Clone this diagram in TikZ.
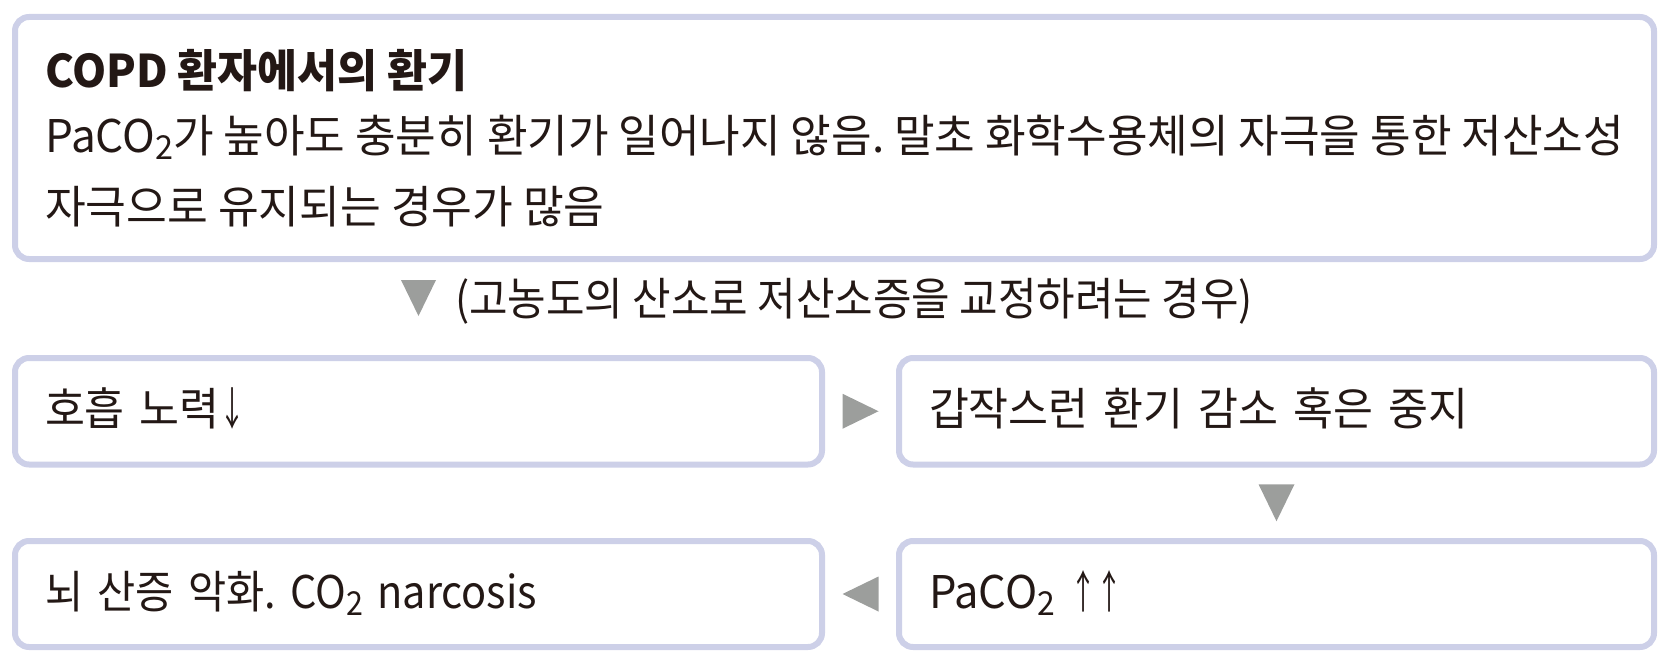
\documentclass[tikz,border=0pt]{standalone}
\usepackage{fontspec}
\usepackage{graphicx}
\setmainfont[FakeStretch=0.965]{Noto Sans CJK KR}
\usetikzlibrary{calc}
\definecolor{bordc}{HTML}{CDD0E8}
\definecolor{tric}{HTML}{9C9E9C}
\definecolor{inkc}{HTML}{231815}
\newcommand\subtwo{\raisebox{-7pt}{\fontsize{33}{33}\selectfont 2}}
\newcommand\uparr{\scalebox{0.6}[1]{↑}}
\newcommand\downarr{\scalebox{0.6}[1]{↓}}
\newcommand\hsq[2]{\scalebox{#1}[1]{#2}}
\frenchspacing
\tikzset{
  txt/.style={font=\fontsize{45}{54}\selectfont, text=inkc, inner sep=0pt},
  frame/.style={draw=bordc, line width=6pt, rounded corners=14pt, fill=white},
  rowbox/.style={frame, txt, inner xsep=30pt, inner ysep=0pt, align=left,
    text height=38pt, text depth=10pt},
  tri/.style={fill=tric, draw=none},
}
\begin{document}
\begin{tikzpicture}[x=1pt,y=1pt]
\useasboundingbox (0,0) rectangle (1678,-666);
% top box
\node[frame, minimum width=1639pt, minimum height=242pt, inner sep=0pt] (top) at (834.5,-138) {};
\node[txt, anchor=base west] (t1) at (45,-88) {\bfseries COPD 환자에서의 환기};
\node[txt, anchor=base west] (t2) at (45,-153) {\hsq{1.016}{PaCO\subtwo 가 높아도 충분히 환기가 일어나지 않음. 말초 화학수용체의 자극을 통한 저산소성}};
\node[txt, anchor=base west] (t3) at (45,-223) {\hsq{1.02}{자극으로 유지되는 경우가 많음}};
% condition text
\node[txt, anchor=base west] (cond) at (455,-315) {\hsq{0.964}{(고농도의 산소로 저산소증을 교정하려는 경우)}};
% row boxes
\node[rowbox, minimum width=807pt, minimum height=106.5pt, text width=747pt] (a) at (418.5,-411.25) {호흡 노력\downarr};
\node[rowbox, minimum width=755pt, minimum height=106.5pt, text width=695pt] (b) at (1276.5,-411.25) {갑작스런 환기 감소 혹은 중지};
\node[rowbox, minimum width=755pt, minimum height=106pt, text width=695pt] (c) at (1276.5,-594) {PaCO\subtwo\ \uparr\uparr};
\node[rowbox, minimum width=807pt, minimum height=106pt, text width=747pt] (d) at (418.5,-594) {\hsq{0.955}{뇌 산증 악화. CO\subtwo\ narcosis}};
% connectors (triangles)
\fill[tri] (a.north) ++(-17.5,75) -- ++(35,0) -- ++(-17.5,-36) -- cycle;
\fill[tri] ($(a.east)!0.5!(b.west)$) ++(-18,17.5) -- ++(36,-17.5) -- ++(-36,-17.5) -- cycle;
\fill[tri] ($(b.south)!0.5!(c.north)$) ++(-18,18.5) -- ++(36,0) -- ++(-18,-37) -- cycle;
\fill[tri] ($(c.west)!0.5!(d.east)$) ++(18,17.5) -- ++(-36,-17.5) -- ++(36,-17.5) -- cycle;
\end{tikzpicture}
\end{document}
